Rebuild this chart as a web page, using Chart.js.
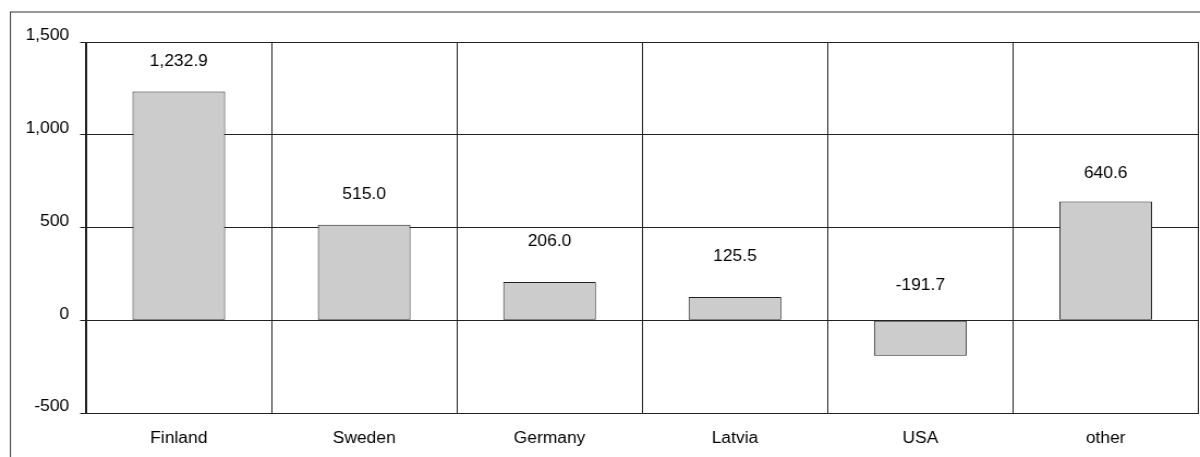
<!DOCTYPE html>
<html>
<head>
<meta charset="utf-8">
<script src="https://cdn.jsdelivr.net/npm/chart.js@4/dist/chart.umd.min.js"></script>
<style>
  html, body { margin: 0; padding: 0; background: #ffffff; overflow: hidden; }
  #wrap {
    position: absolute; left: 0; top: 0;
    width: 1101px; height: 457px;
    transform: scaleX(1.08992); /* 1101 -> 1200 px wide */
    transform-origin: 0 0;
  }
</style>
</head>
<body>
<div id="wrap"><canvas id="chart" width="1101" height="457"></canvas></div>
<script>
// Net change by country
const categories = ['Finland', 'Sweden', 'Germany', 'Latvia', 'USA', 'other'];
const values = [1232.9, 515.0, 206.0, 125.5, -191.7, 640.6];
const yTicks = [-500, 0, 500, 1000, 1500];

// Hand-nudged gap (px) between each bar end and its value label
const labelGap = [30, 30, 40, 40, 35, 28];

const FONT = { family: '"Liberation Sans", Arial, sans-serif', size: 16 };
const fmtInt = v => Number(v).toLocaleString('en-US');
const fmtOne = v => v.toLocaleString('en-US', { minimumFractionDigits: 1, maximumFractionDigits: 1 });

const frame = {
  id: 'frame',
  beforeDraw(chart) {
    const ctx = chart.ctx;
    ctx.save();
    ctx.strokeStyle = '#333333';
    ctx.lineWidth = 1;
    ctx.strokeRect(9.6, 12, 2000, 1000);
    ctx.restore();
  }
};

const valueLabels = {
  id: 'valueLabels',
  afterDatasetsDraw(chart) {
    const ctx = chart.ctx;
    const meta = chart.getDatasetMeta(0);
    const zero = chart.scales.y.getPixelForValue(0);
    ctx.save();
    ctx.font = `${FONT.size}px ${FONT.family}`;
    ctx.fillStyle = '#000000';
    ctx.textAlign = 'center';
    ctx.textBaseline = 'middle';
    meta.data.forEach((bar, i) => {
      const v = values[i];
      const top = v >= 0 ? bar.y : zero;
      ctx.fillText(fmtOne(v), bar.x, top - labelGap[i]);
    });
    ctx.restore();
  }
};

new Chart(document.getElementById('chart'), {
  type: 'bar',
  data: {
    labels: categories,
    datasets: [{
      data: values,
      backgroundColor: '#cccccc',
      borderColor: '#222222',
      borderWidth: 1,
      borderSkipped: false,
      barPercentage: 0.5,
      categoryPercentage: 1.0
    }]
  },
  options: {
    responsive: false,
    devicePixelRatio: 1,
    animation: false,
    layout: { padding: { left: 0, top: 42, right: 1.5, bottom: 0 } },
    plugins: { legend: { display: false }, tooltip: { enabled: false } },
    scales: {
      x: {
        grid: { offset: true, color: '#222222', lineWidth: 1, drawTicks: false, tickLength: 0 },
        border: { display: true, color: '#222222' },
        ticks: { font: FONT, color: '#000000', padding: 16, maxRotation: 0 },
        afterFit(scale) { scale.height = 44; }
      },
      y: {
        min: -500,
        max: 1500,
        afterBuildTicks(scale) { scale.ticks = yTicks.map(v => ({ value: v })); },
        grid: { color: '#222222', lineWidth: 1, drawTicks: true, tickLength: 5.5 },
        border: { display: true, color: '#222222' },
        ticks: { font: FONT, color: '#000000', padding: 10, labelOffset: -6, callback: v => fmtInt(v) },
        afterFit(scale) { scale.width = 79; }
      }
    }
  },
  plugins: [frame, valueLabels]
});
</script>
</body>
</html>
